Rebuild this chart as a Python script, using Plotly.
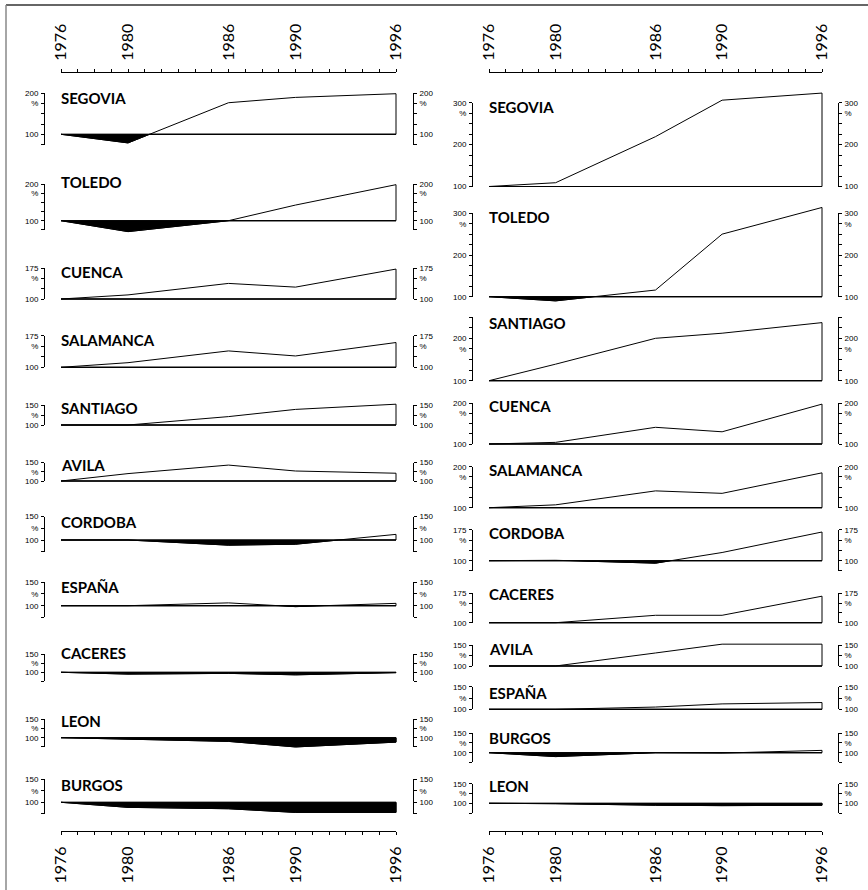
import plotly.graph_objects as go

W, H = 868, 890

# ---------------- data ----------------
years = [1976, 1980, 1986, 1990, 1996]
year_ticks = list(range(1976, 1997))

left_names = ["SEGOVIA", "TOLEDO", "CUENCA", "SALAMANCA", "SANTIAGO", "AVILA",
              "CORDOBA", "ESPAÑA", "CACERES", "LEON", "BURGOS"]
left_segovia = [100, 79, 177, 190, 199]
left_toledo = [100, 70, 100, 143, 199]
left_cuenca = [100, 110, 138, 129, 173]
left_salamanca = [100, 111, 139, 127, 159]
left_santiago = [100, 100, 121, 139, 152]
left_avila = [100, 120, 143, 127, 121]
left_cordoba = [100, 100, 89, 91, 112]
left_espana = [100, 100, 106, 98, 105]
left_caceres = [100, 95, 97, 93, 99]
left_leon = [100, 96, 90, 75, 88]
left_burgos = [100, 89, 86, 78, 78]
left_series = [left_segovia, left_toledo, left_cuenca, left_salamanca, left_santiago,
               left_avila, left_cordoba, left_espana, left_caceres, left_leon, left_burgos]
left_axis_lo = [75, 75, 100, 100, 100, 100, 75, 75, 75, 75, 75]
left_axis_hi = [200, 200, 175, 175, 150, 150, 150, 150, 150, 150, 150]

right_names = ["SEGOVIA", "TOLEDO", "SANTIAGO", "CUENCA", "SALAMANCA", "CORDOBA",
               "CACERES", "AVILA", "ESPAÑA", "BURGOS", "LEON"]
right_segovia = [100, 109, 219, 306, 323]
right_toledo = [100, 90, 116, 250, 314]
right_santiago = [100, 139, 200, 212, 237]
right_cuenca = [100, 104, 141, 130, 198]
right_salamanca = [100, 107, 141, 135, 185]
right_cordoba = [100, 101, 94, 120, 170]
right_caceres = [100, 100, 119, 119, 168]
right_avila = [100, 100, 131, 152, 152]
right_espana = [100, 100, 105, 112, 115]
right_burgos = [100, 90, 100, 99, 106]
right_leon = [100, 99, 95, 94, 95]
right_series = [right_segovia, right_toledo, right_santiago, right_cuenca, right_salamanca,
                right_cordoba, right_caceres, right_avila, right_espana, right_burgos, right_leon]
right_axis_lo = [100, 100, 100, 100, 100, 75, 100, 100, 100, 75, 75]
right_axis_hi = [300, 300, 250, 200, 200, 175, 175, 150, 150, 150, 150]
right_top_label = [300, 300, 200, 200, 200, 175, 175, 150, 150, 150, 150]
left_top_label = left_axis_hi

# ---------------- layout geometry (pixels) ----------------
left_geom = dict(x0=61, x1=396, yax_l=44, yax_r=413, name_x=61,
                 base=[134.3, 220.7, 299, 367.3, 425, 481, 540, 605.7, 672.3, 737.7, 802.3],
                 k=[0.41, 0.364, 0.41, 0.42, 0.40, 0.37, 0.47, 0.47, 0.36, 0.37, 0.46],
                 name_y=[98, 182.3, 271.7, 340, 407.7, 465, 521.7, 587.3, 653.3, 720.7, 785])
right_geom = dict(x0=489, x1=822, yax_l=472, yax_r=838, name_x=489,
                  base=[186.5, 296.7, 380.7, 444, 507.7, 560.7, 622.7, 666, 709.3, 752.7, 803.3],
                  k=[0.419, 0.417, 0.424, 0.407, 0.41, 0.41, 0.39, 0.42, 0.45, 0.39, 0.39],
                  name_y=[106.7, 216.7, 323, 406, 470, 533.3, 594.3, 649.3, 692.7, 737.7, 786])
top_axis_y = 72
bottom_axis_y = 831

FONT = "Lato, 'Open Sans', Arial, sans-serif"


def px(x):
    return x / W


def py(y):
    return 1 - y / H


def below_polygon(xs, vs, base=100):
    """Polygon of the part of the series that lies below the base line."""
    px_, py_ = [], []
    for i in range(len(xs)):
        px_.append(xs[i])
        py_.append(min(vs[i], base))
        if i < len(xs) - 1:
            a, b = vs[i] - base, vs[i + 1] - base
            if a * b < 0:
                t = a / (a - b)
                px_.append(xs[i] + t * (xs[i + 1] - xs[i]))
                py_.append(base)
    px_ += [xs[-1], xs[0]]
    py_ += [base, base]
    return px_, py_


fig = go.Figure()
layout = {}
axis_counter = [0]


def new_y():
    axis_counter[0] += 1
    n = axis_counter[0]
    return n, ("yaxis" if n == 1 else f"yaxis{n}"), ("y" if n == 1 else f"y{n}")


def tick_setup(lo, hi, top_label):
    vals = list(range(lo, hi + 1, 25))
    texts = []
    for v in vals:
        if v == 100 or v == top_label or (v % 100 == 0 and v <= top_label):
            texts.append(str(v))
        elif v == top_label - 25:
            texts.append("%")
        else:
            texts.append("")
    return vals, texts


def build_column(col_idx, names, series, los, his, tops, g):
    xd, xtop, xbot = col_idx * 3 + 1, col_idx * 3 + 2, col_idx * 3 + 3
    xd_ref = "x" if xd == 1 else f"x{xd}"
    s = (g["x1"] - g["x0"]) / (years[-1] - years[0])
    pad = 4
    layout["xaxis" if xd == 1 else f"xaxis{xd}"] = dict(
        domain=[px(g["x0"] - pad), px(g["x1"] + pad)],
        range=[years[0] - pad / s, years[-1] + pad / s],
        visible=False, fixedrange=True, automargin=False)
    first_data_y = None
    for i, name in enumerate(names):
        vals = series[i]
        lo, hi, top = los[i], his[i], tops[i]
        base, k = g["base"][i], g["k"][i]
        # data axis
        n, key, ref = new_y()
        if first_data_y is None:
            first_data_y = ref
        vmax = max(hi, max(vals))
        vmin = min(lo, min(vals))
        top_px = base - (vmax - 100) * k - 4
        bot_px = base + (100 - vmin) * k + 4
        layout[key] = dict(domain=[py(bot_px), py(top_px)],
                           range=[100 - (bot_px - base) / k, 100 + (base - top_px) / k],
                           visible=False, fixedrange=True, automargin=False)
        # white polygon (whole series closed on the 100 base line)
        fig.add_trace(go.Scatter(
            x=years + [years[-1], years[0]], y=vals + [100, 100],
            mode="lines", fill="toself", fillcolor="white",
            line=dict(color="black", width=1), xaxis=xd_ref, yaxis=ref,
            hoverinfo="skip", showlegend=False))
        bx, by = below_polygon(years, vals)
        fig.add_trace(go.Scatter(
            x=bx, y=by, mode="lines", fill="toself", fillcolor="black",
            line=dict(color="black", width=1), xaxis=xd_ref, yaxis=ref,
            hoverinfo="skip", showlegend=False))
        # display axes
        tv, tt = tick_setup(lo, hi, top)
        d_top = base - (hi - 100) * k
        d_bot = base + (100 - lo) * k
        common = dict(range=[lo, hi], tickvals=tv, ticktext=tt, ticks="outside",
                      ticklen=3, tickwidth=1, tickcolor="black", showline=True,
                      linecolor="black", linewidth=1, showgrid=False, zeroline=False,
                      tickfont=dict(size=8, color="black", family="Liberation Sans, Arial"),
                      fixedrange=True, ticklabelstandoff=1, automargin=False)
        nl, keyl, refl = new_y()
        layout[keyl] = dict(domain=[py(d_bot), py(d_top)], anchor="free",
                            position=px(g["yax_l"]), side="left", **common)
        nr, keyr, refr = new_y()
        layout[keyr] = dict(overlaying=refl, anchor="free", position=px(g["yax_r"]),
                            side="right", **common)
        for r in (refl, refr):
            fig.add_trace(go.Scatter(x=[1986], y=[(lo + hi) / 2], mode="markers",
                                     marker=dict(size=1, opacity=0), xaxis=xd_ref,
                                     yaxis=r, hoverinfo="skip", showlegend=False))
        fig.add_annotation(x=px(g["name_x"]), y=py(g["name_y"][i]), xref="paper",
                           yref="paper", text=f"<b>{name}</b>", showarrow=False,
                           xanchor="left", yanchor="middle", xshift=-2,
                           font=dict(size=15, color="black", family=FONT))
    # year axes
    ytext = [str(y) if y in years else "" for y in year_ticks]
    for xi, side, ypix in ((xtop, "top", top_axis_y), (xbot, "bottom", bottom_axis_y)):
        layout[f"xaxis{xi}"] = dict(
            domain=[px(g["x0"]), px(g["x1"])], range=[years[0], years[-1]],
            anchor="free", position=py(ypix), side=side, showline=True,
            linecolor="black", linewidth=1, ticks="outside", ticklen=3, tickwidth=1,
            tickcolor="black", tickvals=year_ticks, ticktext=ytext, tickangle=-90,
            tickfont=dict(size=16, color="black", family=FONT), showgrid=False,
            zeroline=False, fixedrange=True, ticklabelstandoff=5, automargin=False)
        fig.add_trace(go.Scatter(x=[1986], y=[100], mode="markers",
                                 marker=dict(size=1, opacity=0), xaxis=f"x{xi}",
                                 yaxis=first_data_y, hoverinfo="skip", showlegend=False))


build_column(0, left_names, left_series, left_axis_lo, left_axis_hi, left_top_label, left_geom)
build_column(1, right_names, right_series, right_axis_lo, right_axis_hi, right_top_label, right_geom)

fig.update_layout(**layout)
fig.update_layout(
    width=W, height=H, margin=dict(l=0, r=0, t=0, b=0, pad=0, autoexpand=False),
    paper_bgcolor="white", plot_bgcolor="rgba(0,0,0,0)", showlegend=False,
    shapes=[
        dict(type="line", xref="paper", yref="paper", x0=px(6), x1=1, y0=py(5), y1=py(5),
             line=dict(color="#333", width=1.5)),
        dict(type="line", xref="paper", yref="paper", x0=px(6), x1=px(6), y0=py(5), y1=0,
             line=dict(color="#888", width=1.5)),
    ],
)
fig.write_html("out.html", config={"displayModeBar": False},
               post_script="document.body.style.margin='0';document.body.style.overflow='hidden';")
